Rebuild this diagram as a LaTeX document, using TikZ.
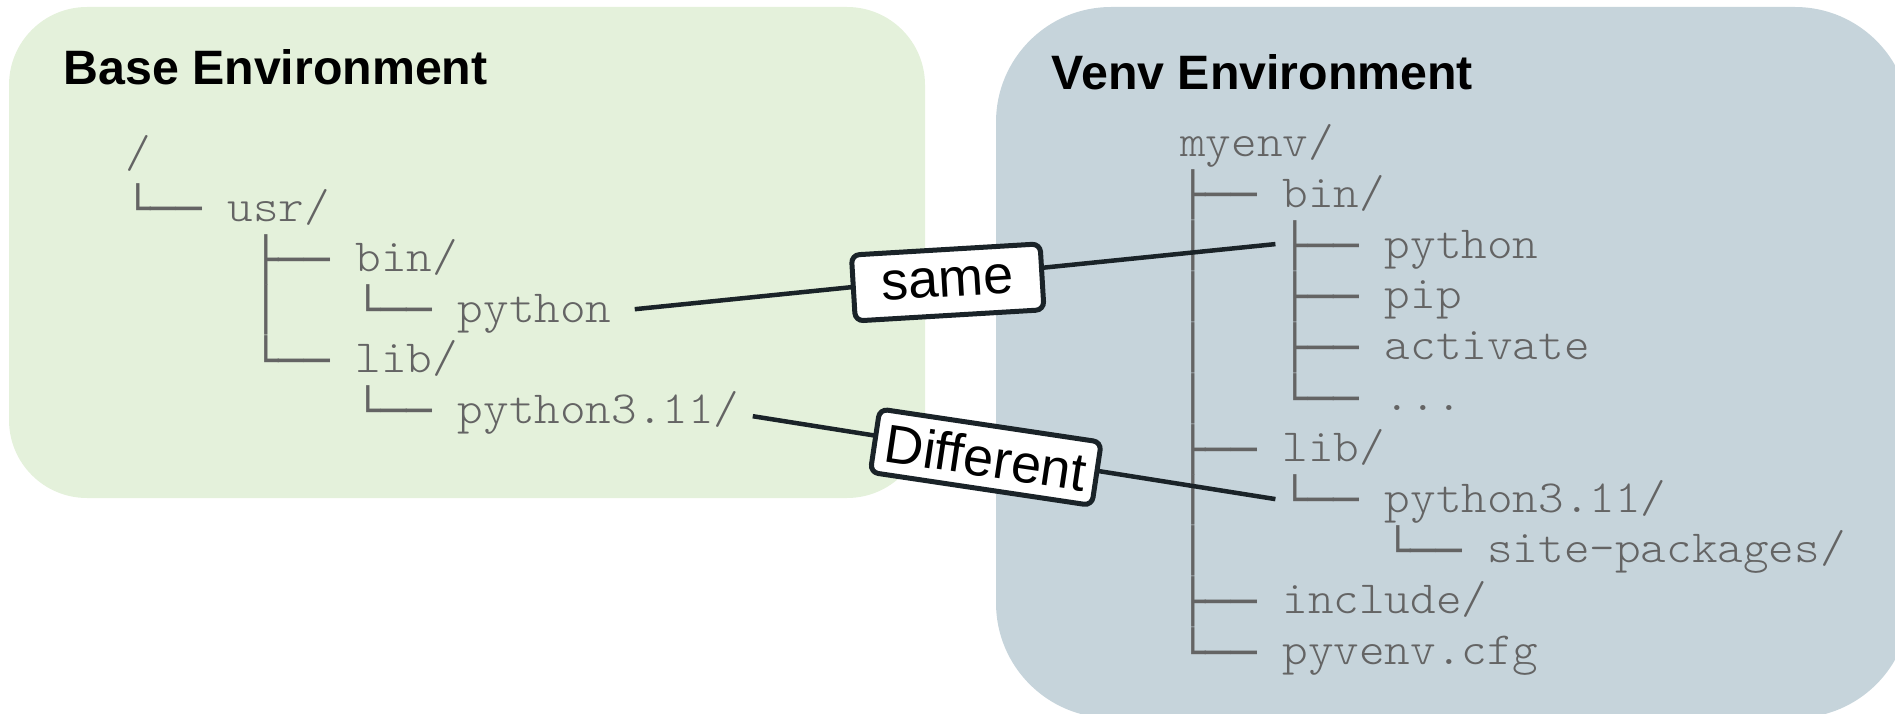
\documentclass[tikz,border=0pt]{standalone}
\usepackage{fontspec}
\setmainfont{Liberation Sans}
% typewriter face for the file names, widened to a 25.6pt cell
\newfontfamily\treefont{lmmonolt10-regular.otf}[FakeStretch=1.06]
% tree-drawing characters
\newfontfamily\boxfont{DejaVu Sans Mono}

\definecolor{basefill}{HTML}{E4F1DB}
\definecolor{venvfill}{HTML}{C6D4DB}
\definecolor{treegrey}{HTML}{646464}
\definecolor{ink}{HTML}{1A2328}

\newlength\cellw
\setlength\cellw{25.6pt}
\newcommand\bx[1]{\raisebox{-2.7pt}{\boxfont\fontsize{42.5}{50}\selectfont #1}}
\newcommand\sk[1]{\hspace*{#1\cellw}}

\begin{document}
\begin{tikzpicture}[x=1pt,y=-1pt,
  tt/.style={anchor=base west, inner sep=0pt, text=treegrey,
             font=\treefont\fontsize{46}{50}\selectfont},
  paneltitle/.style={anchor=base west, inner sep=0pt,
             font=\bfseries\fontsize{48.3}{56}\selectfont},
  conn/.style={draw=ink, line width=4.5pt},
  tag/.style={draw=ink, fill=white, line width=5pt, rounded corners=8pt,
             inner sep=0pt, text=black, font=\fontsize{54}{60}\selectfont}]

\useasboundingbox (0,0) rectangle (1895,714);
\clip (0,0) rectangle (1895,714);

% the two environment panels
\fill[basefill, rounded corners=78pt] (9,7) rectangle (925,498);
\fill[venvfill, rounded corners=115pt] (996,7) rectangle (1910,718);

\node[paneltitle] (basetitle) at (63.3,84.3) {Base Environment};
\node[paneltitle] (venvtitle) at (1051.5,90) {Venv Environment};

% base environment tree (column 0 at x=125)
\node[tt] (b0) at (125,167.5) {/};
\node[tt] (b1) at (125,221.2) {\bx{└──}\sk{1}usr/};
\node[tt] (b2) at (253,271.7) {\bx{├──}\sk{1}bin/};
\node[tt] (b3v) at (253,322.2) {\bx{│}};
\node[tt] (b3) at (355.4,322.2) {\bx{└──}\sk{1}python};
\node[tt] (b4) at (253,372.7) {\bx{└──}\sk{1}lib/};
\node[tt] (b5) at (355.4,423.2) {\bx{└──}\sk{1}python3.11/};

% venv tree (column 0 at x=1180)
\node[tt] (v0) at (1180,156.5) {myenv/};
\node[tt] (v1) at (1180,207.3) {\bx{├──}\sk{1}bin/};
\node[tt] (v2v) at (1180,258.1) {\bx{│}};
\node[tt] (v2) at (1282.4,258.1) {\bx{├──}\sk{1}python};
\node[tt] (v3v) at (1180,308.9) {\bx{│}};
\node[tt] (v3) at (1282.4,308.9) {\bx{├──}\sk{1}pip};
\node[tt] (v4v) at (1180,359.7) {\bx{│}};
\node[tt] (v4) at (1282.4,359.7) {\bx{├──}\sk{1}activate};
\node[tt] (v5v) at (1180,410.5) {\bx{│}};
\node[tt] (v5) at (1282.4,410.5) {\bx{└──}\sk{1}...};
\node[tt] (v6) at (1180,461.3) {\bx{├──}\sk{1}lib/};
\node[tt] (v7v) at (1180,512.1) {\bx{│}};
\node[tt] (v7) at (1282.4,512.1) {\bx{└──}\sk{1}python3.11/};
\node[tt] (v8v) at (1180,562.9) {\bx{│}};
\node[tt] (v8) at (1384.8,562.9) {\bx{└──}\sk{1}site-packages/};
\node[tt] (v9) at (1180,613.7) {\bx{├──}\sk{1}include/};
\node[tt] (v10) at (1180,664.5) {\bx{└──}\sk{1}pyvenv.cfg};

% links between the two trees
\draw[conn] ([xshift=23pt,yshift=13pt]b3.base east)
  -- node[tag, pos=0.488, rotate=3.4, yshift=-5pt,
          minimum width=189pt, minimum height=66pt] (same) {same}
  ([xshift=-7pt,yshift=14pt]v2.base west);
\draw[conn] ([xshift=13pt,yshift=7pt]b5.base east)
  -- node[tag, pos=0.447, rotate=-8.5, yshift=-4pt,
          minimum width=224pt, minimum height=64pt] (diff) {Different}
  ([xshift=-7pt,yshift=13pt]v7.base west);
\end{tikzpicture}
\end{document}
